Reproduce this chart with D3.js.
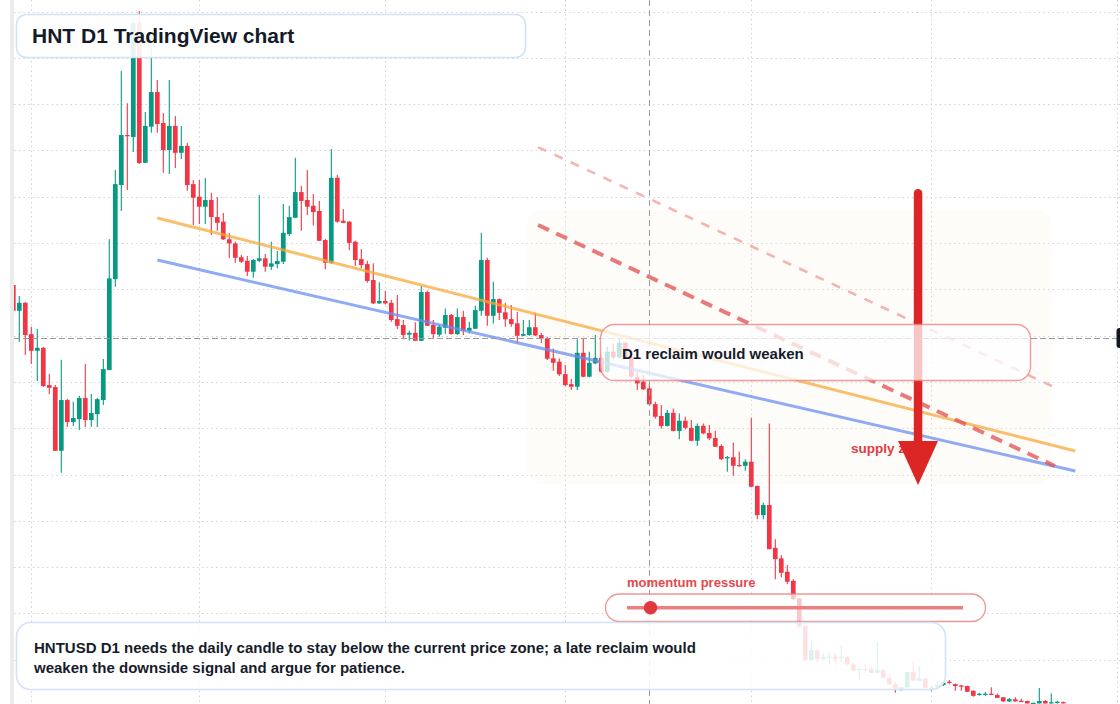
<!DOCTYPE html>
<html><head><meta charset="utf-8">
<script src="https://cdn.jsdelivr.net/npm/d3@7"></script>
<style>html,body{margin:0;padding:0;background:#fff;}svg{display:block;font-family:"Liberation Sans",Arial,Helvetica,sans-serif;}</style>
</head><body><svg id="c" width="1120" height="704"></svg>
<script>
// ---------- DATA ----------
const firstDay = "2025-01-29";
const lastDay = "2025-07-23";
const open = [3.273,3.134,3.177,3.008,2.918,2.934,2.733,2.722,2.378,2.652,
2.533,2.549,2.663,2.544,2.576,2.652,2.814,3.305,3.813,4.083,
4.072,4.689,3.933,4.128,4.315,4.148,4.002,4.132,3.987,4.024,
3.818,3.750,3.696,3.732,3.640,3.615,3.520,3.498,3.423,3.404,
3.345,3.404,3.417,3.372,3.386,3.399,3.548,3.636,3.775,3.732,
3.701,3.673,3.516,3.393,3.852,3.620,3.615,3.507,3.413,3.386,
3.300,3.174,3.187,3.177,3.089,3.057,3.005,3.015,2.972,3.235,
3.057,3.005,3.042,3.111,3.008,3.100,3.026,3.037,3.134,3.408,
3.107,3.197,3.126,3.089,3.066,2.999,3.003,3.045,3.003,2.984,
2.877,2.859,2.792,2.738,2.724,2.907,2.778,2.850,2.880,2.805,
2.913,2.883,2.961,2.883,2.778,2.751,2.715,2.630,2.566,2.512,
2.583,2.485,2.540,2.502,2.432,2.513,2.474,2.447,2.404,2.340,
2.343,2.301,2.297,2.319,2.188,2.031,2.085,1.854,1.797,1.725,
1.676,1.581,1.432,1.248,1.302,1.253,1.261,1.266,1.263,1.264,
1.225,1.197,1.199,1.199,1.179,1.194,1.152,1.117,1.090,1.101,
1.183,1.136,1.149,1.095,1.101,1.113,1.131,1.118,1.111,1.108,
1.082,1.063,1.063,1.066,1.059,1.047,1.025,1.036,1.028,1.027,
1.014,1.014,1.027,1.014,1.020,1.021];
const high = [3.284,3.214,3.181,3.048,3.035,2.938,2.792,2.733,2.870,2.657,
2.643,2.675,2.846,2.684,2.663,2.873,3.520,3.894,4.429,4.254,
4.715,4.753,4.207,4.553,4.380,4.202,4.380,4.186,4.132,4.040,
3.840,3.840,3.851,3.771,3.748,3.662,3.554,3.507,3.435,3.430,
3.413,3.759,3.440,3.507,3.457,3.710,3.701,3.960,3.808,3.894,
3.764,3.727,3.521,4.007,3.867,3.683,3.619,3.512,3.467,3.404,
3.390,3.288,3.241,3.192,3.219,3.084,3.026,3.072,3.268,3.242,
3.084,3.057,3.147,3.116,3.147,3.134,3.075,3.161,3.555,3.420,
3.291,3.200,3.176,3.165,3.127,3.084,3.084,3.124,3.014,2.994,
2.931,2.877,2.841,2.765,2.980,2.985,2.913,3.003,2.895,2.940,
2.958,2.985,2.967,2.895,2.805,2.787,2.742,2.643,2.625,2.598,
2.607,2.580,2.562,2.544,2.526,2.526,2.517,2.486,2.414,2.350,
2.421,2.373,2.332,2.556,2.190,2.097,2.526,1.901,1.815,1.761,
1.685,1.583,1.434,1.351,1.305,1.286,1.287,1.286,1.329,1.270,
1.232,1.203,1.225,1.212,1.347,1.197,1.172,1.131,1.102,1.186,
1.237,1.212,1.152,1.113,1.129,1.135,1.140,1.121,1.113,1.110,
1.085,1.071,1.075,1.101,1.068,1.048,1.043,1.047,1.039,1.029,
1.017,1.097,1.032,1.068,1.028,1.024];
const low = [3.122,2.967,2.895,2.846,2.755,2.722,2.684,2.377,2.259,2.506,
2.512,2.490,2.506,2.506,2.506,2.625,2.814,3.264,3.673,3.786,
3.991,3.926,3.932,4.095,4.095,3.879,3.872,3.905,3.953,3.782,
3.597,3.602,3.602,3.543,3.566,3.516,3.419,3.393,3.392,3.322,
3.312,3.397,3.345,3.354,3.363,3.386,3.538,3.635,3.566,3.651,
3.595,3.511,3.358,3.386,3.609,3.606,3.462,3.376,3.363,3.285,
3.170,3.170,3.168,3.075,3.035,2.980,2.974,2.971,2.971,3.052,
2.985,2.994,3.008,3.006,3.003,3.003,3.012,3.035,3.107,3.053,
3.066,3.084,3.048,3.048,2.960,2.996,2.999,2.998,2.960,2.868,
2.810,2.782,2.728,2.706,2.706,2.775,2.775,2.846,2.798,2.798,
2.873,2.879,2.879,2.771,2.706,2.706,2.625,2.553,2.499,2.509,
2.483,2.440,2.495,2.431,2.404,2.468,2.436,2.398,2.328,2.265,
2.243,2.292,2.270,2.181,2.009,2.008,1.846,1.685,1.695,1.657,
1.572,1.426,1.243,1.245,1.237,1.248,1.225,1.232,1.236,1.221,
1.189,1.145,1.179,1.178,1.178,1.151,1.113,1.071,1.082,1.097,
1.135,1.134,1.097,1.082,1.097,1.108,1.118,1.082,1.082,1.075,
1.050,1.055,1.055,1.061,1.043,1.021,1.021,1.023,1.024,1.013,
1.013,1.013,1.013,1.013,1.013,1.013];
const close = [3.134,3.177,3.003,2.918,2.934,2.728,2.718,2.378,2.652,2.533,
2.555,2.663,2.544,2.582,2.657,2.819,3.309,3.818,4.083,4.078,
4.688,3.932,4.132,4.315,4.142,4.002,4.132,3.987,4.024,3.813,
3.744,3.696,3.732,3.640,3.609,3.520,3.498,3.420,3.399,3.345,
3.408,3.417,3.372,3.390,3.403,3.555,3.640,3.775,3.727,3.696,
3.667,3.512,3.393,3.852,3.615,3.609,3.501,3.408,3.381,3.295,
3.174,3.187,3.174,3.084,3.053,3.003,3.015,2.972,3.235,3.053,
3.008,3.048,3.111,3.008,3.100,3.026,3.042,3.138,3.408,3.107,
3.197,3.123,3.088,3.062,2.999,3.008,3.045,3.001,2.984,2.875,
2.853,2.791,2.733,2.724,2.907,2.778,2.853,2.880,2.805,2.913,
2.883,2.961,2.883,2.778,2.742,2.710,2.629,2.562,2.512,2.583,
2.485,2.540,2.502,2.432,2.512,2.472,2.445,2.400,2.333,2.344,
2.297,2.296,2.319,2.184,2.031,2.085,1.847,1.793,1.719,1.671,
1.577,1.428,1.248,1.302,1.253,1.264,1.267,1.253,1.266,1.225,
1.192,1.200,1.194,1.179,1.194,1.152,1.117,1.095,1.101,1.183,
1.136,1.149,1.098,1.101,1.113,1.125,1.125,1.108,1.106,1.077,
1.055,1.066,1.066,1.062,1.044,1.025,1.037,1.025,1.025,1.014,
1.017,1.027,1.014,1.020,1.023,1.014];

const priceTicks = [1.00,1.25,1.50,1.75,2.00,2.25,2.50,2.75,3.00,3.25,3.50,3.75,4.00,4.25,4.50,4.75];
const monthTicks = ["2025-02-01","2025-03-01","2025-04-01","2025-05-01","2025-06-01","2025-07-01","2025-08-01"];

const trendOrange = [["2025-02-22T00:00", 3.635], ["2025-07-25T00:00", 2.377]];
const trendBlue   = [["2025-02-22T00:00", 3.408], ["2025-07-25T00:00", 2.269]];
const channelUpper = [["2025-04-26T11:00", 4.018], ["2025-07-21T02:00", 2.728]];
const channelLower = [["2025-04-26T11:00", 3.597], ["2025-07-21T14:00", 2.296]];
const zoneTimes = ["2025-04-24T14:00", "2025-07-21T02:00"];
const zonePrices = [3.678, 2.198];
const arrowTime = "2025-06-28T19:00";
const arrowPrices = [3.769, 2.193];
const crossTime = "2025-05-15T00:00";
const crossPrice = 2.987;
const momentumValue = 0.07;

const titleText = "HNT D1 TradingView chart";
const noteLines = ["HNTUSD D1 needs the daily candle to stay below the current price zone; a late reclaim would",
                   "weaken the downside signal and argue for patience."];
const reclaimText = "D1 reclaim would weaken";
const supplyText = "supply zone";
const momentumText = "momentum pressure";

// ---------- DRAW ----------
const W = 1120, H = 704;
const parse = s => new Date(s.length === 10 ? s + "T00:00:00Z" : s + ":00Z");
const svg = d3.select("#c");
const x = d3.scaleUtc().domain([parse(firstDay), parse(lastDay)]).range([13.3, 1063.3]);
const y = d3.scaleLinear().domain([1.0, 4.75]).range([706, 11.5]);

const days = open.map((o, i) => d3.utcDay.offset(parse(firstDay), i));
const candles = open.map((o, i) => ({d: days[i], o, h: Math.max(high[i], o, close[i]), l: Math.min(low[i], o, close[i]), c: close[i]}));

svg.append("rect").attr("width", W).attr("height", H).attr("fill", "#fff");
svg.append("defs").append("clipPath").attr("id", "plot").append("rect").attr("x", 14).attr("y", 0).attr("width", W - 14).attr("height", H);
svg.append("rect").attr("x", 10).attr("y", 0).attr("width", 4).attr("height", H).attr("fill", "#ebebeb");

const plot = svg.append("g").attr("clip-path", "url(#plot)");

// grid
const grid = plot.append("g").attr("stroke", "#cfd2d6").attr("stroke-width", 1).attr("stroke-dasharray", "1.5,3.2");
grid.selectAll("line.h").data(priceTicks).join("line").attr("class", "h")
  .attr("x1", 14).attr("x2", W).attr("y1", d => Math.round(y(d)) + 0.5).attr("y2", d => Math.round(y(d)) + 0.5);
grid.selectAll("line.v").data(monthTicks).join("line").attr("class", "v")
  .attr("y1", 0).attr("y2", H).attr("x1", d => Math.round(x(parse(d))) + 0.5).attr("x2", d => Math.round(x(parse(d))) + 0.5);

// supply zone
const zx0 = x(parse(zoneTimes[0])), zx1 = x(parse(zoneTimes[1]));
plot.append("rect").attr("x", zx0).attr("y", y(zonePrices[0])).attr("width", zx1 - zx0)
  .attr("height", y(zonePrices[1]) - y(zonePrices[0])).attr("rx", 16)
  .attr("fill", "#fbeee3").attr("opacity", 0.2);

// candles
const up = "#089981", dn = "#f23645";
const cg = plot.append("g");
cg.selectAll("line").data(candles).join("line")
  .attr("x1", d => x(d.d)).attr("x2", d => x(d.d))
  .attr("y1", d => y(d.h)).attr("y2", d => y(d.l))
  .attr("stroke", d => d.c >= d.o ? up : dn).attr("stroke-width", 1.1);
cg.selectAll("rect").data(candles).join("rect")
  .attr("x", d => x(d.d) - 2.35).attr("width", 4.7)
  .attr("y", d => y(Math.max(d.o, d.c)))
  .attr("height", d => Math.max(1.2, Math.abs(y(d.o) - y(d.c))))
  .attr("fill", d => d.c >= d.o ? up : dn);

// trend lines
const seg = (pts) => pts.map(p => [x(parse(p[0])), y(p[1])]);
const lineGen = d3.line();
plot.append("path").attr("d", lineGen(seg(trendOrange))).attr("stroke", "#f7a93b").attr("stroke-opacity", 0.75).attr("stroke-width", 3).attr("fill", "none");
plot.append("path").attr("d", lineGen(seg(trendBlue))).attr("stroke", "#6b8ff2").attr("stroke-opacity", 0.75).attr("stroke-width", 3).attr("fill", "none");
plot.append("path").attr("d", lineGen(seg(channelUpper))).attr("stroke", "#ea6b6b").attr("stroke-opacity", 0.5).attr("stroke-width", 2.6).attr("stroke-dasharray", "9,9").attr("fill", "none");
plot.append("path").attr("d", lineGen(seg(channelLower))).attr("stroke", "#e04848").attr("stroke-opacity", 0.72).attr("stroke-width", 4).attr("stroke-dasharray", "12,8").attr("fill", "none");

// crosshair
const cx = Math.round(x(parse(crossTime))) + 0.5, cy = Math.round(y(crossPrice)) + 0.5;
plot.append("line").attr("x1", cx).attr("x2", cx).attr("y1", 0).attr("y2", H).attr("stroke", "#9a9a9a").attr("stroke-dasharray", "6,4");
plot.append("line").attr("x1", 14).attr("x2", W).attr("y1", cy).attr("y2", cy).attr("stroke", "#9a9a9a").attr("stroke-dasharray", "6,3");

// supply label + arrow
svg.append("text").attr("x", 851).attr("y", 453).attr("fill", "#e33b3f").attr("font-size", 13.5).attr("font-weight", 700).text(supplyText);
const ax = x(parse(arrowTime)), ay0 = y(arrowPrices[0]), ay1 = y(arrowPrices[1]);
svg.append("line").attr("x1", ax).attr("x2", ax).attr("y1", ay0).attr("y2", ay1 - 30)
  .attr("stroke", "#dc2626").attr("stroke-width", 8.5).attr("stroke-linecap", "round");
svg.append("path").attr("d", `M${ax - 20},${ay1 - 44}L${ax + 20},${ay1 - 44}L${ax},${ay1}Z`).attr("fill", "#dc2626");

// reclaim box
svg.append("rect").attr("x", 600.5).attr("y", 324.5).attr("width", 430).attr("height", 56).attr("rx", 14)
  .attr("fill", "#fff").attr("fill-opacity", 0.74).attr("stroke", "#ec7b7b").attr("stroke-opacity", 0.75).attr("stroke-width", 1.4);
svg.append("text").attr("x", 622).attr("y", 359).attr("fill", "#161c2a").attr("font-size", 15).attr("font-weight", 700).text(reclaimText);

// momentum
svg.append("text").attr("x", 627).attr("y", 587).attr("fill", "#e5484d").attr("font-size", 13).attr("font-weight", 700).text(momentumText);
svg.append("rect").attr("x", 605.5).attr("y", 594).attr("width", 380).attr("height", 27.5).attr("rx", 13.7)
  .attr("fill", "#fff").attr("fill-opacity", 0.72).attr("stroke", "#ec7b7b").attr("stroke-opacity", 0.8).attr("stroke-width", 1.3);
const track = d3.scaleLinear().domain([0, 1]).range([627, 963]);
svg.append("line").attr("x1", track(0)).attr("x2", track(1)).attr("y1", 607.7).attr("y2", 607.7).attr("stroke", "#ec7f7f").attr("stroke-width", 3.4);
svg.append("circle").attr("cx", track(momentumValue)).attr("cy", 607.7).attr("r", 6.8).attr("fill", "#e03a3e");

// note box
svg.append("rect").attr("x", 16.5).attr("y", 622.5).attr("width", 929).attr("height", 67).attr("rx", 14)
  .attr("fill", "#fff").attr("fill-opacity", 0.86).attr("stroke", "#d3e2f6").attr("stroke-width", 1.6);
svg.append("text").attr("fill", "#161c2a").attr("font-size", 15).attr("font-weight", 700)
  .selectAll("tspan").data(noteLines).join("tspan").attr("x", 34).attr("y", (d, i) => 653.3 + i * 20).text(d => d);

// title box
svg.append("rect").attr("x", 16.5).attr("y", 14.5).attr("width", 509).attr("height", 43).attr("rx", 10)
  .attr("fill", "#fff").attr("fill-opacity", 0.9).attr("stroke", "#d3e2f6").attr("stroke-width", 1.6);
svg.append("text").attr("x", 32).attr("y", 43.3).attr("fill", "#131a28").attr("font-size", 21).attr("font-weight", 700).text(titleText);

// last price tag at right edge
svg.append("rect").attr("x", 1116.5).attr("y", y(crossPrice) - 10).attr("width", 12).attr("height", 20).attr("rx", 3).attr("fill", "#131722");
</script></body></html>
